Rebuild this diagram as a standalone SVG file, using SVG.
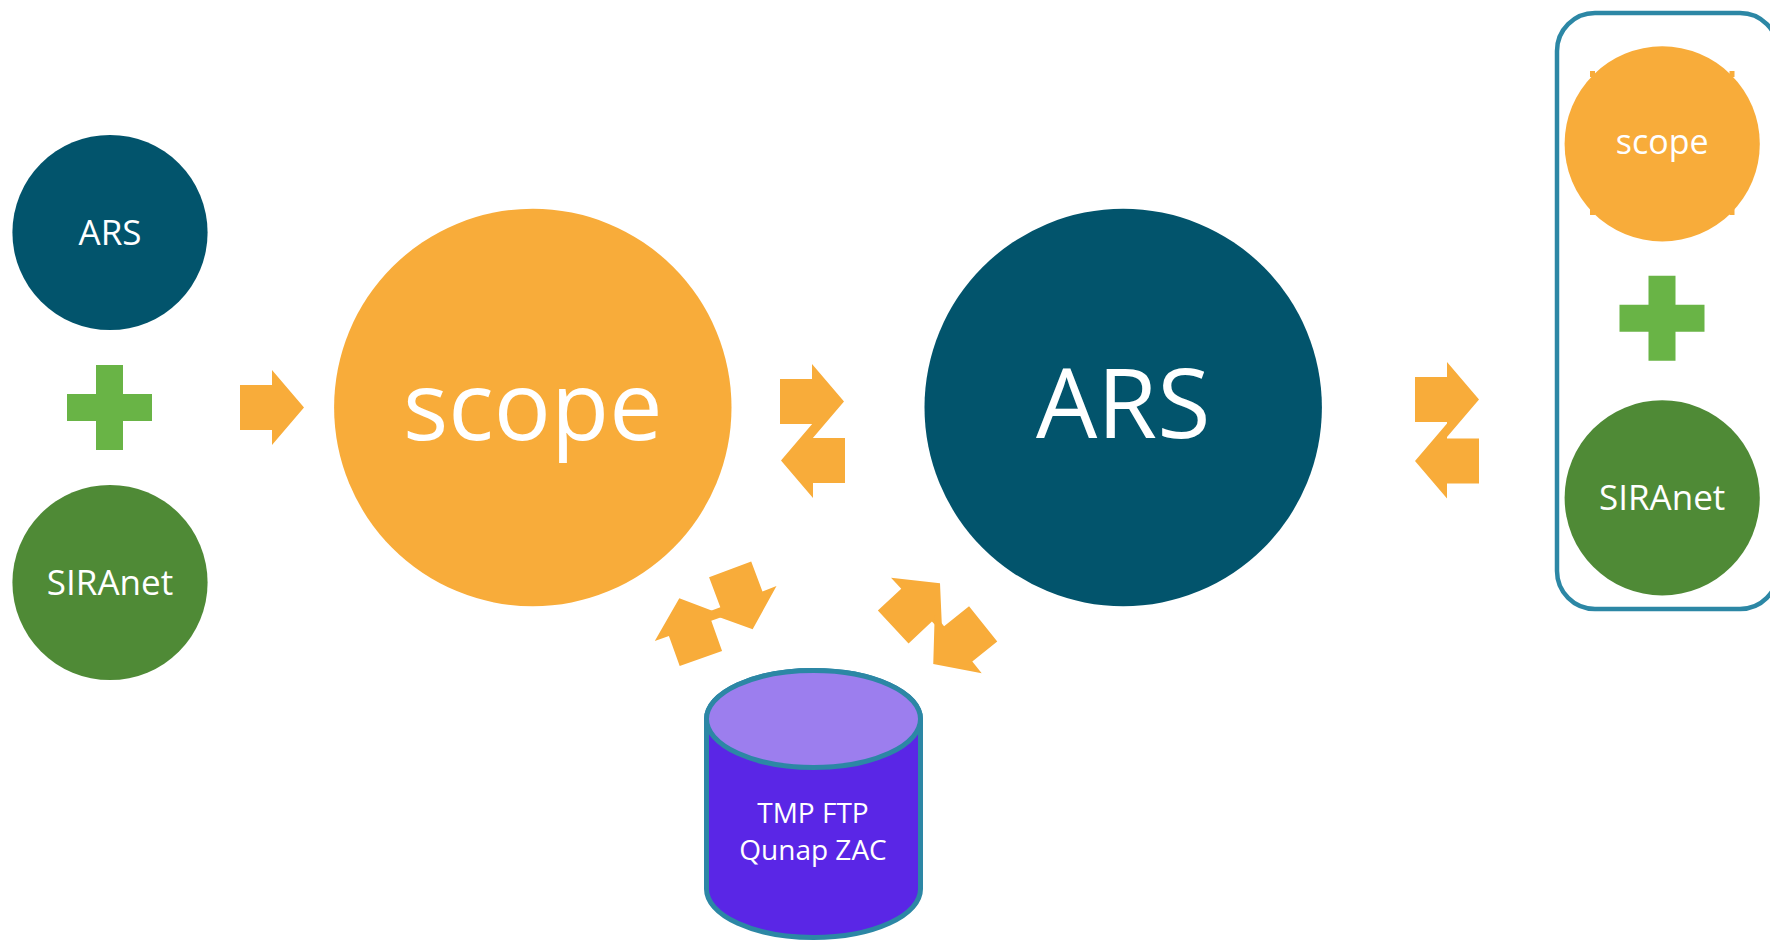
<svg xmlns="http://www.w3.org/2000/svg" width="1770" height="942" viewBox="0 0 1770 942">
<style>
.lbl{font-family:"Open Sans","Noto Sans",sans-serif;fill:#ffffff;text-anchor:middle}
.ars{fill:#02546C}
.scope{fill:#F8AC3A}
.sira{fill:#4F8A36}
.plus{fill:#69B446}
.arr{fill:#F8AC3A}
</style>
<defs>
<path id="arrow" d="M-32,-22.5 H0 V-37.5 L32,0 L0,37.5 V22.5 H-32 Z"/>
<path id="plusShape" d="M-13.5,-42.5 H13.5 V-13.5 H42.5 V13.5 H13.5 V42.5 H-13.5 V13.5 H-42.5 V-13.5 H-13.5 Z"/>
</defs>
<rect width="1770" height="942" fill="#ffffff"/>

<g id="container">
<rect x="1557" y="13" width="221" height="596" rx="38" ry="38" fill="none" stroke="#2C87A5" stroke-width="4.5"/>
</g>

<g id="ars-small">
<circle class="ars" cx="110" cy="232.5" r="97.6"/>
<text class="lbl" x="110" y="244.5" font-size="35">ARS</text>
</g>
<g id="plus-left">
<use href="#plusShape" class="plus" transform="translate(109.5,407.5)"/>
</g>
<g id="siranet-small">
<circle class="sira" cx="110" cy="582.5" r="97.6"/>
<text class="lbl" x="110" y="594.5" font-size="35">SIRAnet</text>
</g>

<g id="scope-big">
<circle class="scope" cx="532.8" cy="407.5" r="198.7"/>
<text class="lbl" x="532.8" y="440" font-size="95">scope</text>
</g>

<g id="ars-big">
<circle class="ars" cx="1123.2" cy="407.5" r="198.7"/>
<text class="lbl" x="1123.2" y="438" font-size="97">ARS</text>
</g>

<g id="storage">
<path d="M706.5,719 V889 A107,48.5 0 0 0 920.5,889 V719 A107,48.5 0 0 0 706.5,719 Z" fill="#5A26E6" stroke="#2C87A5" stroke-width="5"/>
<ellipse cx="813.5" cy="719" rx="107" ry="48.5" fill="#9C7EEE" stroke="#2C87A5" stroke-width="5"/>
<text class="lbl" x="813" y="823" font-size="28">TMP FTP</text>
<text class="lbl" x="813" y="860" font-size="28">Qunap ZAC</text>
</g>

<g id="scope-small">
<circle class="scope" cx="1662.2" cy="143.9" r="97.6"/>
<rect class="scope" x="1590" y="71" width="5" height="6"/>
<rect class="scope" x="1729.5" y="71" width="5" height="6"/>
<rect class="scope" x="1590" y="209" width="5" height="6"/>
<rect class="scope" x="1729.5" y="209" width="5" height="6"/>
<text class="lbl" x="1662.2" y="154" font-size="34">scope</text>
</g>
<g id="plus-right">
<use href="#plusShape" class="plus" transform="translate(1662,318.3)"/>
</g>
<g id="siranet-right">
<circle class="sira" cx="1662.2" cy="497.8" r="97.6"/>
<text class="lbl" x="1662.2" y="509.5" font-size="35">SIRAnet</text>
</g>

<g id="connectors">
<use href="#arrow" class="arr" transform="translate(272,407.5)"/>
<use href="#arrow" class="arr" transform="translate(812,401.5)"/>
<use href="#arrow" class="arr" transform="translate(813,460.5) rotate(180)"/>
<use href="#arrow" class="arr" transform="translate(1447,399.5)"/>
<use href="#arrow" class="arr" transform="translate(1447,461) rotate(180)"/>
<use href="#arrow" class="arr" transform="translate(741.4,599.3) rotate(69.4)"/>
<use href="#arrow" class="arr" transform="translate(690.1,628.4) rotate(250.3)"/>
<use href="#arrow" class="arr" transform="translate(916.6,605.1) rotate(-43)"/>
<use href="#arrow" class="arr" transform="translate(958.2,643.9) rotate(141.2)"/>
</g>
</svg>
